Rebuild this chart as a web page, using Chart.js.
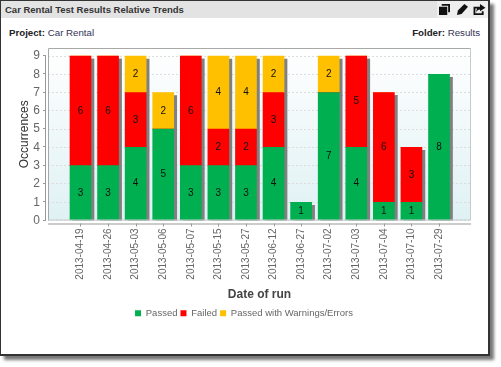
<!DOCTYPE html>
<html>
<head>
<meta charset="utf-8">
<title>Car Rental Test Results Relative Trends</title>
<script src="https://cdn.jsdelivr.net/npm/chart.js@4"></script>
<style>
  html, body { margin: 0; padding: 0; background: #fff; overflow: hidden; }
  body { width: 501px; height: 367px; position: relative; font-family: "Liberation Sans", Arial, sans-serif; }
  #panel { position: absolute; left: 0; top: 0; width: 487px; height: 353px; background: #fff;
    border: 1px solid #333; border-right-width: 2px; border-bottom-width: 2px; box-shadow: 4px 4px 3px #777; }
  #bar { height: 17px; background: #e3e3e3; font: bold 9.5px "Liberation Sans", Arial, sans-serif;
    line-height: 17px; padding-left: 4px; color: #333; position: relative; }
  #icons { position: absolute; right: 0; top: 0; width: 51px; height: 17px; background: #eee; }
  #icons svg { position: absolute; top: 3px; }
  .info { position: absolute; top: 26px; font: 9.7px "Liberation Sans", Arial, sans-serif; color: #335; }
  .info b { color: #222; }
  #wrap { position: absolute; left: 0; top: 0; width: 501px; height: 367px; }
</style>
</head>
<body>
<div id="panel">
  <div id="bar">Car Rental Test Results Relative Trends
    <div id="icons">
      <svg style="left:2px" width="11" height="11" viewBox="0 0 12 12"><path d="M3 0h9v9h-2V2H3z M0 3h9v9H0z" fill="#111"/></svg>
      <svg style="left:20px" width="11" height="11" viewBox="0 0 12 12"><path d="M8 0l4 3-7 8-5 1 1-5z" fill="#111"/></svg>
      <svg style="left:36px" width="13" height="11" viewBox="0 0 13 12"><path d="M0 3h6v2H2v5h7V8h2v4H0z M7 0l6 4-6 4V6C5 6 4 7 3 9c0-3 1-6 4-6z" fill="#111"/></svg>
    </div>
  </div>
  <div class="info" style="left:8px"><b>Project:</b> Car Rental</div>
  <div class="info" style="right:8px"><b>Folder:</b> Results</div>
</div>
<div id="wrap"><canvas id="chart" width="501" height="367"></canvas></div>
<script>
const dates = ["2013-04-19", "2013-04-26", "2013-05-03", "2013-05-06", "2013-05-07", "2013-05-15", "2013-05-27",
  "2013-06-12", "2013-06-27", "2013-07-02", "2013-07-03", "2013-07-04", "2013-07-10", "2013-07-29"];
const passed = [3, 3, 4, 5, 3, 3, 3, 4, 1, 7, 4, 1, 1, 8];
const failed = [6, 6, 3, 0, 6, 2, 2, 3, 0, 0, 5, 6, 3, 0];
const warnings = [0, 0, 2, 2, 0, 4, 4, 2, 0, 2, 0, 0, 0, 0];
const yTicks = [0, 1, 2, 3, 4, 5, 6, 7, 8, 9];

function points(values) {
  return values.map((v, i) => ({ x: i, y: v }));
}

// plot background, bar shadows, value labels and the detached axis lines
const plotStyle = {
  id: "plotStyle",
  beforeDraw(chart) {
    const a = chart.chartArea, ctx = chart.ctx;
    const g = ctx.createLinearGradient(0, a.top, 0, a.bottom);
    g.addColorStop(0, "#ffffff");
    g.addColorStop(1, "#dff1f4");
    ctx.fillStyle = g;
    ctx.fillRect(a.left, a.top, a.width, a.height);
  },
  beforeDatasetDraw(chart) {
    const ctx = chart.ctx;
    ctx.save();
    ctx.shadowColor = "#808080";
    ctx.shadowOffsetX = 3;
    ctx.shadowOffsetY = 3;
    ctx.shadowBlur = 0;
  },
  afterDatasetDraw(chart) {
    chart.ctx.restore();
  },
  afterDatasetsDraw(chart) {
    const ctx = chart.ctx, a = chart.chartArea;
    ctx.save();
    ctx.font = '10px "Liberation Sans", Arial, sans-serif';
    ctx.fillStyle = "#111";
    ctx.textAlign = "center";
    ctx.textBaseline = "middle";
    chart.data.datasets.forEach((ds, d) => {
      chart.getDatasetMeta(d).data.forEach((bar, i) => {
        const v = ds.data[i].y;
        if (v > 0) ctx.fillText(v, bar.x, (bar.y + bar.base) / 2);
      });
    });

    // plot frame
    ctx.lineWidth = 1;
    ctx.strokeStyle = "#a8a8a8";
    ctx.beginPath();
    ctx.moveTo(a.left + 0.5, a.bottom);
    ctx.lineTo(a.left + 0.5, a.top + 0.5);
    ctx.lineTo(a.right, a.top + 0.5);
    ctx.stroke();
    ctx.strokeStyle = "#c4cccc";
    ctx.beginPath();
    ctx.moveTo(a.right - 0.5, a.top);
    ctx.lineTo(a.right - 0.5, a.bottom - 0.5);
    ctx.lineTo(a.left, a.bottom - 0.5);
    ctx.stroke();

    // x axis below the plot
    ctx.strokeStyle = "#999";
    ctx.beginPath();
    ctx.moveTo(a.left, a.bottom + 3.5);
    ctx.lineTo(a.right, a.bottom + 3.5);
    dates.forEach((d, i) => {
      const x = Math.round(chart.scales.x.getPixelForValue(i)) + 0.5;
      ctx.moveTo(x, a.bottom + 3);
      ctx.lineTo(x, a.bottom + 6);
    });
    ctx.stroke();

    // y axis left of the plot
    const yTop = chart.scales.y.getPixelForValue(9);
    ctx.beginPath();
    ctx.moveTo(a.left - 2.5, yTop);
    ctx.lineTo(a.left - 2.5, a.bottom);
    yTicks.forEach(t => {
      const y = Math.round(chart.scales.y.getPixelForValue(t)) - 0.5;
      ctx.moveTo(a.left - 5, y);
      ctx.lineTo(a.left - 2, y);
    });
    ctx.stroke();
    ctx.restore();
  }
};

new Chart(document.getElementById("chart"), {
  type: "bar",
  data: {
    datasets: [
      { label: "Passed", data: points(passed), backgroundColor: "#00b050" },
      { label: "Failed", data: points(failed), backgroundColor: "#ff0000" },
      { label: "Passed with Warnings/Errors", data: points(warnings), backgroundColor: "#ffc000" }
    ]
  },
  options: {
    responsive: false,
    animation: false,
    datasets: { bar: { barThickness: 21 } },
    layout: { padding: { left: 17, top: 48, right: 30, bottom: 39 } },
    plugins: {
      tooltip: { enabled: false },
      title: { display: false },
      legend: {
        position: "bottom",
        labels: {
          boxWidth: 6, boxHeight: 6, padding: 3, color: "#666",
          font: { family: "Liberation Sans", size: 9.5 }
        }
      }
    },
    scales: {
      x: {
        type: "linear",
        stacked: true,
        offset: false,
        min: -1.178,
        max: 14.16,
        afterBuildTicks(scale) {
          scale.ticks = dates.map((d, i) => ({ value: i }));
        },
        afterFit(scale) { scale.height = 85; },
        grid: { display: false, drawTicks: false },
        border: { display: false },
        ticks: {
          callback: v => dates[v],
          autoSkip: false,
          maxRotation: 90,
          minRotation: 90,
          color: "#666",
          padding: 8,
          font: { family: "Liberation Sans", size: 10 }
        },
        title: {
          display: true,
          text: "Date of run",
          color: "#444",
          padding: { top: 4, bottom: 4 },
          font: { family: "Liberation Sans", size: 12, weight: "bold" }
        }
      },
      y: {
        stacked: true,
        min: 0,
        max: 9.44,
        afterBuildTicks(scale) {
          scale.ticks = yTicks.map(t => ({ value: t }));
        },
        afterFit(scale) { scale.width = 31; },
        grid: { color: "#ddd", drawTicks: false },
        border: { display: false, dash: [2, 2] },
        ticks: {
          color: "#666",
          padding: 8,
          font: { family: "Liberation Sans", size: 12 }
        },
        title: {
          display: true,
          text: "Occurrences",
          color: "#333",
          padding: 0,
          font: { family: "Liberation Sans", size: 12 }
        }
      }
    }
  },
  plugins: [plotStyle]
});
</script>
</body>
</html>
